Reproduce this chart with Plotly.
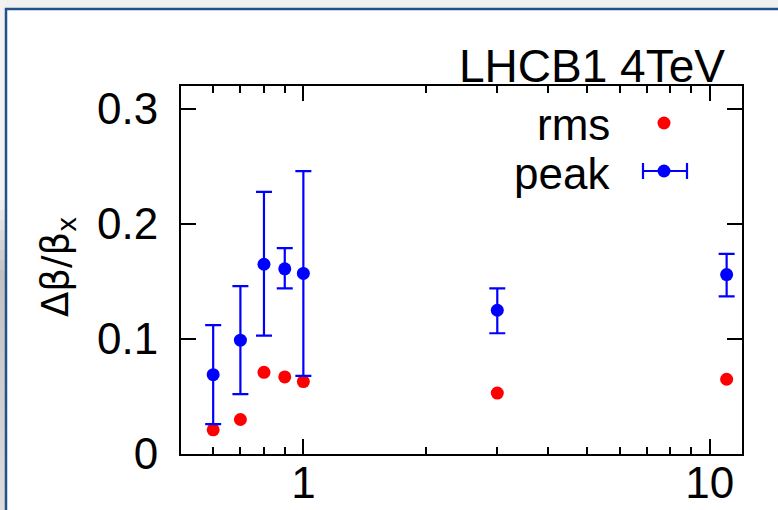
import numpy as np
import plotly.graph_objects as go

# ---- data ----
x_vals = [0.6, 0.7, 0.8, 0.9, 1.0, 3.0, 11.0]
rms_vals = [0.021, 0.030, 0.071, 0.067, 0.063, 0.053, 0.065]
peak_vals = [0.069, 0.099, 0.165, 0.161, 0.157, 0.125, 0.156]
peak_hi = [0.112, 0.146, 0.228, 0.179, 0.246, 0.144, 0.174]
peak_lo = [0.026, 0.052, 0.103, 0.144, 0.068, 0.105, 0.137]

x_tickvals = [1, 10]
x_ticktext = ["1", "10"]
x_minor = [0.6, 0.7, 0.8, 0.9, 2, 3, 4, 5, 6, 7, 8, 9]
y_tickvals = [0, 0.1, 0.2, 0.3]
y_ticktext = ["0", "0.1", "0.2", "0.3"]

title_text = "LHCB1 4TeV"
ylabel = "Δβ/β<sub>x</sub>"
legend_labels = ["rms", "peak"]

# ---- layout geometry (pixels) ----
W, H = 778, 510
L, R, T, B = 181, 742, 86, 454
PW, PH = R - L, B - T


def px(x):
    return (x - L) / PW


def py(y):
    return (B - y) / PH


FONT = "Liberation Sans, Arial, Helvetica, sans-serif"
BLUE = "#0000ff"
RED = "#ff0000"
NAVY = "#23508a"

err_plus = [h - p for h, p in zip(peak_hi, peak_vals)]
err_minus = [p - l for p, l in zip(peak_vals, peak_lo)]

fig = go.Figure()
fig.add_trace(go.Scatter(
    x=x_vals, y=rms_vals, mode="markers", name=legend_labels[0],
    marker=dict(color=RED, size=13, line=dict(width=0)),
    showlegend=False,
))
fig.add_trace(go.Scatter(
    x=x_vals, y=peak_vals, mode="markers", name=legend_labels[1],
    marker=dict(color=BLUE, size=13, line=dict(width=0)),
    error_y=dict(type="data", symmetric=False, array=err_plus,
                 arrayminus=err_minus, color=BLUE, thickness=2.2, width=8),
    showlegend=False,
))

axis_common = dict(
    showline=True, linewidth=2, linecolor="black", mirror="ticks",
    ticks="inside", ticklen=15, tickwidth=2, tickcolor="black",
    showgrid=False, zeroline=False, automargin=False,
    tickfont=dict(family=FONT, size=44, color="black"),
)

fig.update_xaxes(
    type="log", range=[np.log10(0.5), np.log10(12)],
    tickmode="array", tickvals=x_tickvals, ticktext=x_ticktext,
    minor=dict(tickvals=x_minor, ticks="inside", ticklen=7, tickwidth=2,
               tickcolor="black", showgrid=False),
    ticklabelstandoff=-11,
    **axis_common,
)
fig.update_yaxes(
    range=[0, 0.32], tickmode="array", tickvals=y_tickvals, ticktext=y_ticktext,
    ticklabelstandoff=12,
    **axis_common,
)

shapes = []
# slide background: grey left strip with a soft gradient
band_stops = [(0, 200, 0xf2, 0xf2), (200, 280, 0xf0, 0xbd), (280, 510, 0xc2, 0xdc)]
for y0, y1, g0, g1 in band_stops:
    n = max(1, (y1 - y0) // 10)
    for i in range(n):
        ya = y0 + (y1 - y0) * i / n
        yb = y0 + (y1 - y0) * (i + 1) / n
        g = int(round(g0 + (g1 - g0) * (i + 0.5) / n))
        col = "#%02x%02x%02x" % (g, g, g)
        shapes.append(dict(type="rect", xref="paper", yref="paper", layer="below",
                           x0=px(0), x1=px(6), y0=py(yb + 0.5), y1=py(ya),
                           fillcolor=col, line=dict(width=0)))
# white slide panel with navy top/left border
shapes.append(dict(type="rect", xref="paper", yref="paper", layer="below",
                   x0=px(6), x1=px(800), y0=py(9), y1=py(530),
                   fillcolor="white", line=dict(color=NAVY, width=2.5)))

# custom gnuplot-style legend symbols
lx, ly1, ly2 = 664, 123, 171
r = 6.5
shapes.append(dict(type="circle", xref="paper", yref="paper",
                   x0=px(lx - r), x1=px(lx + r), y0=py(ly1 + r), y1=py(ly1 - r),
                   fillcolor=RED, line=dict(width=0)))
shapes.append(dict(type="line", xref="paper", yref="paper",
                   x0=px(643), x1=px(687), y0=py(ly2), y1=py(ly2),
                   line=dict(color=BLUE, width=2.2)))
for cx in (643, 687):
    shapes.append(dict(type="line", xref="paper", yref="paper",
                       x0=px(cx), x1=px(cx), y0=py(ly2 - 8), y1=py(ly2 + 8),
                       line=dict(color=BLUE, width=2.2)))
shapes.append(dict(type="circle", xref="paper", yref="paper",
                   x0=px(lx - r), x1=px(lx + r), y0=py(ly2 + r), y1=py(ly2 - r),
                   fillcolor=BLUE, line=dict(width=0)))

annotations = [
    dict(text=title_text, xref="paper", yref="paper", x=px(727), y=py(86),
         xanchor="right", yanchor="bottom", showarrow=False, yshift=-8,
         font=dict(family=FONT, size=46, color="black")),
    dict(text=legend_labels[0], xref="paper", yref="paper", x=px(612), y=py(125),
         xanchor="right", yanchor="middle", showarrow=False,
         font=dict(family=FONT, size=44, color="black")),
    dict(text=legend_labels[1], xref="paper", yref="paper", x=px(612), y=py(173),
         xanchor="right", yanchor="middle", showarrow=False,
         font=dict(family=FONT, size=44, color="black")),
    dict(text=ylabel, xref="paper", yref="paper", x=px(58), y=py(267),
         xanchor="center", yanchor="middle", showarrow=False, textangle=-90,
         font=dict(family="DejaVu Sans, " + FONT, size=37, color="black")),
]

fig.update_layout(
    width=W, height=H,
    margin=dict(l=L, r=W - R, t=T, b=H - B, pad=0, autoexpand=False),
    paper_bgcolor="#f0f0f0", plot_bgcolor="white",
    showlegend=False,
    shapes=shapes, annotations=annotations,
)

fig.write_html(
    "out.html",
    config={"displayModeBar": False},
    post_script="document.body.style.margin='0';document.body.style.background='#f0f0f0';",
)
